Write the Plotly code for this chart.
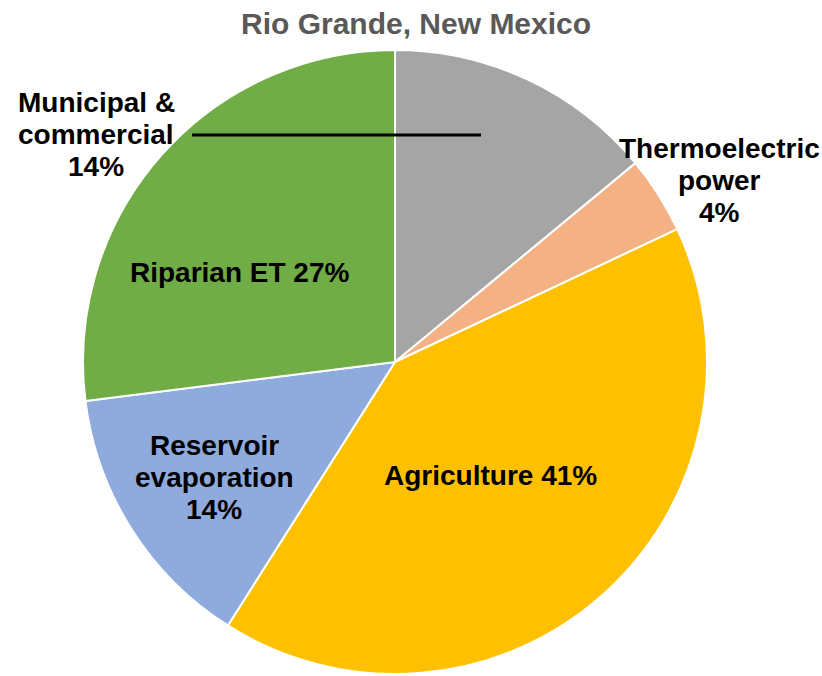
import plotly.graph_objects as go

# Water use shares, Rio Grande (New Mexico)
categories = ["Municipal & commercial", "Thermoelectric power", "Agriculture",
              "Reservoir evaporation", "Riparian ET"]
shares = [14, 4, 41, 14, 27]
colors = ["#A5A5A5", "#F4B183", "#FFC000", "#8FAADC", "#70AD47"]

W, H = 822, 676
FONT = "Liberation Sans, Arial, Helvetica, sans-serif"

fig = go.Figure(go.Pie(
    labels=categories,
    values=shares,
    sort=False,
    direction="clockwise",
    rotation=0,
    marker=dict(colors=colors, line=dict(color="white", width=2)),
    textinfo="none",
    hoverinfo="label+percent",
    showlegend=False,
    domain=dict(x=[83 / W, 707 / W], y=[1 - 674 / H, 1 - 50 / H]),
))

# label placement: (center x px, center y px, line breaks)
label_layout = {
    "Municipal & commercial": (96, 135, ["Municipal &", "commercial"]),
    "Thermoelectric power": (719, 180, ["Thermoelectric", "power"]),
    "Agriculture": (490, 475, None),
    "Reservoir evaporation": (214, 478, ["Reservoir", "evaporation"]),
    "Riparian ET": (240, 272, None),
}
LINE_GAP = 32

annotations = []
for name, val in zip(categories, shares):
    cx, cy, parts = label_layout[name]
    lines = [f"{name} {val}%"] if parts is None else parts + [f"{val}%"]
    n = len(lines)
    for i, txt in enumerate(lines):
        annotations.append(dict(
            x=cx / W, y=1 - cy / H, xref="paper", yref="paper",
            xanchor="center", yanchor="middle",
            yshift=-(i - (n - 1) / 2) * LINE_GAP,
            text=txt, showarrow=False,
            font=dict(family=FONT, size=28, color="black", weight=700),
        ))

# title
annotations.append(dict(
    x=416 / W, y=1 - 24 / H, xref="paper", yref="paper",
    xanchor="center", yanchor="middle", showarrow=False,
    text="Rio Grande, New Mexico",
    font=dict(family=FONT, size=30, color="#595959", weight=700),
))

fig.update_layout(
    width=W, height=H,
    margin=dict(l=0, r=0, t=0, b=0),
    paper_bgcolor="white", plot_bgcolor="white",
    annotations=annotations,
    shapes=[dict(type="line", xref="paper", yref="paper",
                 x0=192 / W, x1=481 / W, y0=1 - 135 / H, y1=1 - 135 / H,
                 line=dict(color="black", width=3))],
)

fig.write_html("out.html")
